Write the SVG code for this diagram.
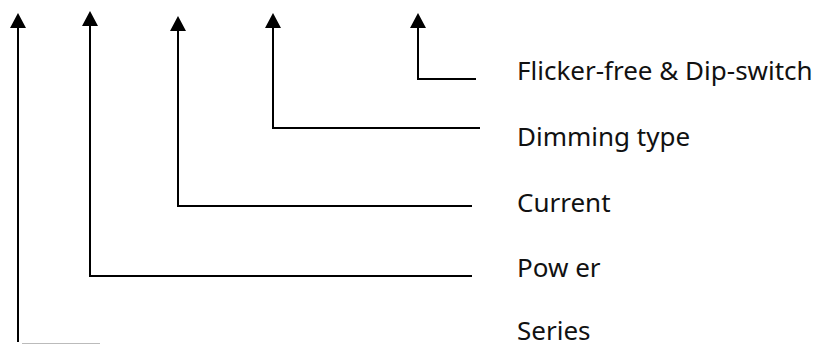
<svg xmlns="http://www.w3.org/2000/svg" width="820" height="344" viewBox="0 0 820 344">
<style>
.c{fill:none;stroke:#000;stroke-width:2}
.t{font-family:"Noto Sans","Open Sans","Liberation Sans",sans-serif;font-size:26px;fill:#111}
</style>
<defs>
<marker id="ah" markerUnits="userSpaceOnUse" viewBox="0 0 15 16" markerWidth="15" markerHeight="16" refX="0" refY="8" orient="auto">
<path d="M0,0 L15,8 L0,16 z" fill="#000"/>
</marker>
</defs>
<rect width="820" height="344" fill="#fff"/>
<g id="connectors">
<path class="c" d="M18,342 V28" marker-end="url(#ah)"/>
<path d="M22,343.5 H100" fill="none" stroke="#bbb" stroke-width="1"/>
<path class="c" d="M472,276 H90 V26" marker-end="url(#ah)"/>
<path class="c" d="M472,206 H178 V31" marker-end="url(#ah)"/>
<path class="c" d="M480,128 H273 V28" marker-end="url(#ah)"/>
<path class="c" d="M476,79 H418 V28" marker-end="url(#ah)"/>
</g>
<g id="flicker"><text class="t" x="517" y="80">Flicker-free &amp; Dip-switch</text></g>
<g id="dimming"><text class="t" x="517" y="146">Dimming type</text></g>
<g id="current"><text class="t" x="517" y="212">Current</text></g>
<g id="power"><text class="t" x="517" y="277">Pow er</text></g>
<g id="series"><text class="t" x="517" y="340">Series</text></g>
</svg>
